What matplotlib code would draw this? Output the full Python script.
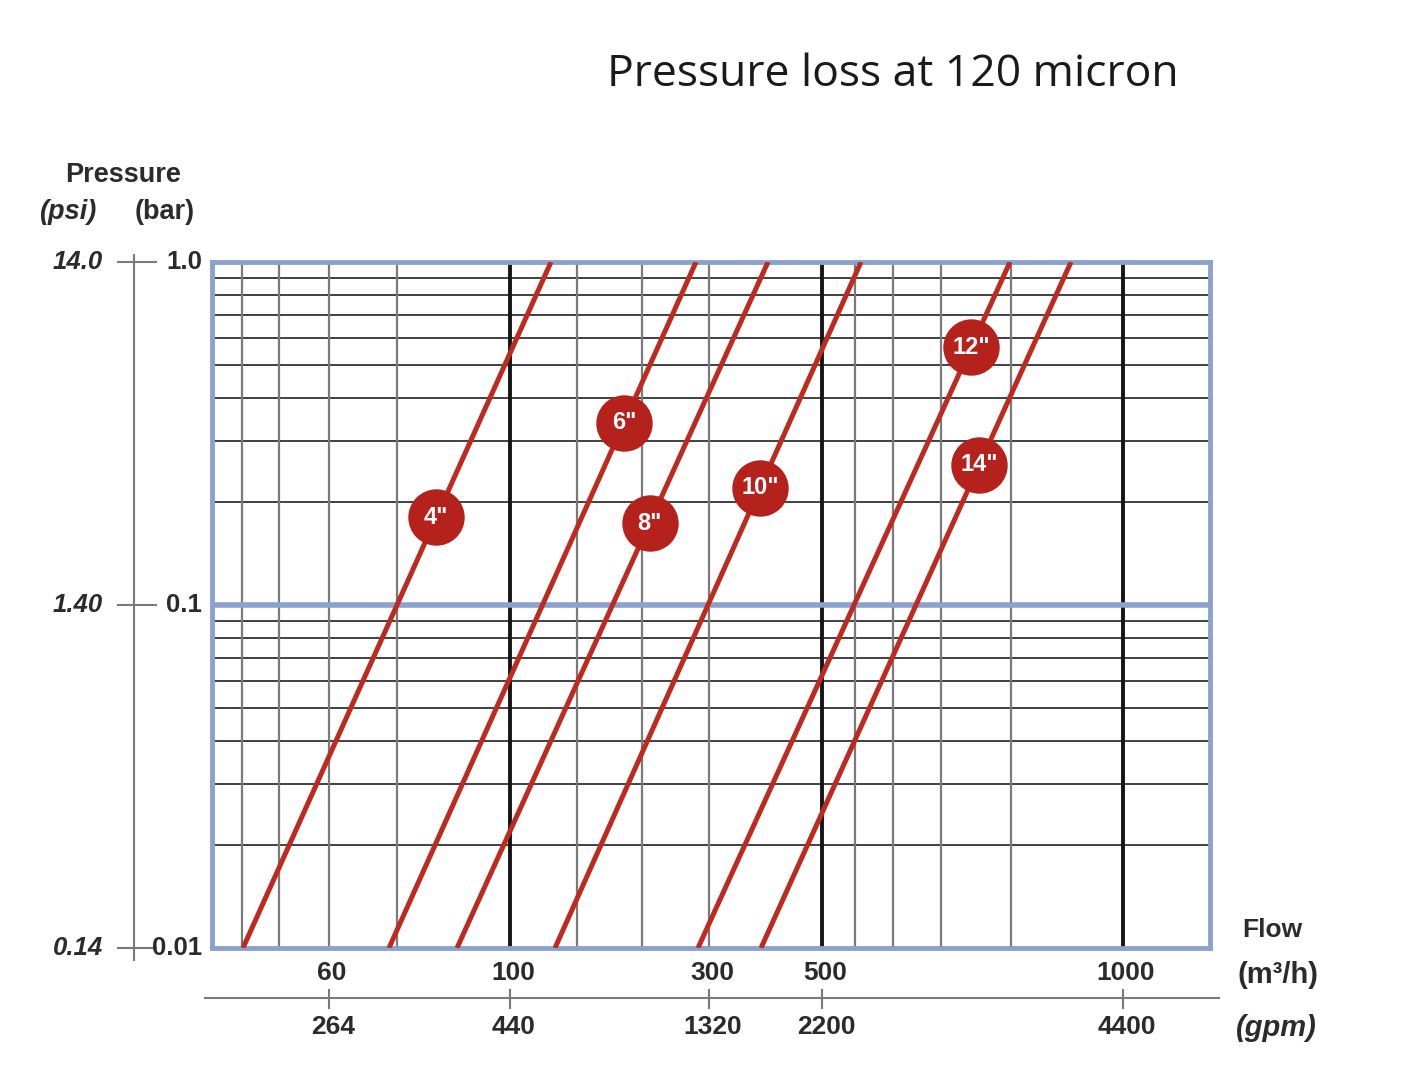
import numpy as np
import matplotlib.pyplot as plt
from matplotlib.transforms import blended_transform_factory

# pressure axis (bar) and matching psi labels
bar_ticks = [1.0, 0.1, 0.01]
bar_labels = ['1.0', '0.1', '0.01']
psi_labels = ['14.0', '1.40', '0.14']

# flow axis: chart is drawn on a position scale
flow_m3h = ['60', '100', '300', '500', '1000']
flow_gpm = ['264', '440', '1320', '2200', '4400']
flow_pos = [329, 510, 709, 822, 1123]
grid_pos = [242, 279, 329, 397, 577, 642, 709, 855, 893, 941, 1011]
major_pos = [510, 822, 1123]

# filter sizes: flow position at 0.01 bar and at 1.0 bar, and badge pressure
sizes = ['4"', '6"', '8"', '10"', '12"', '14"']
pos_at_001 = [243, 389, 457, 555, 698, 761]
pos_at_1 = [551, 696, 768, 861, 1010, 1071]
badge_p = [0.18, 0.34, 0.173, 0.22, 0.565, 0.256]

W, H = 1420, 1082
red = '#bd2a1f'
blue = '#8aa2cc'
txt = '#2b2b2b'
fam = 'Liberation Sans'

fig = plt.figure(figsize=(W / 100, H / 100), dpi=100)
ax = fig.add_axes([212 / W, 1 - 948 / H, (1210 - 212) / W, (948 - 262) / H])
ax.set_yscale('log')
ax.set_ylim(0.01, 1.0)
ax.set_xlim(212, 1210)

# horizontal grid
for dec in [0.01, 0.1]:
    for m in range(2, 10):
        ax.axhline(dec * m, color='#404040', lw=1.4, zorder=1)
ax.axhline(0.1, color=blue, lw=4, zorder=2)

# vertical grid
for g in grid_pos:
    ax.axvline(g, color='#7a7a7a', lw=1.6, zorder=1)
for g in major_pos:
    ax.axvline(g, color='#151515', lw=2.8, zorder=1)

# filter lines and badges
for name, x0, x1, p in zip(sizes, pos_at_001, pos_at_1, badge_p):
    ax.plot([x0, x1], [0.01, 1.0], color=red, lw=3.6, zorder=3,
            solid_capstyle='butt')
    t = (np.log10(p) + 2) / 2
    bx = x0 + (x1 - x0) * t
    ax.scatter([bx], [p], s=1650, color='#b5221b', zorder=4, linewidths=0)
    ax.text(bx, p, name, color='white', fontsize=17, fontweight='bold',
            ha='center', va='center', zorder=5, family=fam)

ax.set_xticks([])
ax.set_yticks([])
ax.minorticks_off()
for s in ax.spines.values():
    s.set_color(blue)
    s.set_linewidth(3.5)

# left pressure scale
ty = blended_transform_factory(fig.transFigure, ax.transData)
ax.plot([134 / W, 134 / W], [0.0092, 1.05], color='#7a7a7a', lw=1.5,
        transform=ty, clip_on=False)
for b, bl, pl in zip(bar_ticks, bar_labels, psi_labels):
    ax.plot([118 / W, 156 / W], [b, b], color='#7a7a7a', lw=1.5,
            transform=ty, clip_on=False)
    ax.text(202 / W, b, bl, transform=ty, ha='right', va='center',
            fontsize=18.5, fontweight='bold', color=txt, family=fam)
    ax.text(103 / W, b, pl, transform=ty, ha='right', va='center',
            fontsize=18.5, fontweight='bold', style='italic', color=txt,
            family=fam)

fig.text(123 / W, 1 - 175 / H, 'Pressure', ha='center', va='center',
         fontsize=19.5, fontweight='bold', color=txt, family=fam)
fig.text(68 / W, 1 - 212 / H, '(psi)', ha='center', va='center',
         fontsize=19.5, fontweight='bold', style='italic', color=txt,
         family=fam)
fig.text(165 / W, 1 - 212 / H, '(bar)', ha='center', va='center',
         fontsize=19.5, fontweight='bold', color=txt, family=fam)

# bottom flow scales
tx = blended_transform_factory(ax.transData, fig.transFigure)
ax.plot([205, 1219], [1 - 998 / H, 1 - 998 / H], color='#7a7a7a', lw=1.5,
        transform=tx, clip_on=False)
for fp, fm, fg in zip(flow_pos, flow_m3h, flow_gpm):
    ax.plot([fp, fp], [1 - 990 / H, 1 - 1008 / H], color='#7a7a7a', lw=1.5,
            transform=tx, clip_on=False)
    ax.text(fp + 3, 1 - 973 / H, fm, transform=tx, ha='center', va='center',
            fontsize=19, fontweight='bold', color=txt, family=fam)
    ax.text(fp + 4, 1 - 1027 / H, fg, transform=tx, ha='center', va='center',
            fontsize=19, fontweight='bold', color=txt, family=fam)

fig.text(1272 / W, 1 - 930 / H, 'Flow', ha='center', va='center',
         fontsize=19, fontweight='bold', color=txt, family=fam)
fig.text(1278 / W, 1 - 975 / H, '(m³/h)', ha='center', va='center',
         fontsize=21, fontweight='bold', color=txt, family=fam)
fig.text(1276 / W, 1 - 1028 / H, '(gpm)', ha='center', va='center',
         fontsize=21, fontweight='bold', style='italic', color=txt,
         family=fam)

fig.text(893 / W, 1 - 75 / H, 'Pressure loss at 120 micron', ha='center',
         va='center', fontsize=32, color='#1a1a1a', family='Open Sans')

fig.savefig('out.png', dpi=100, facecolor='white')
